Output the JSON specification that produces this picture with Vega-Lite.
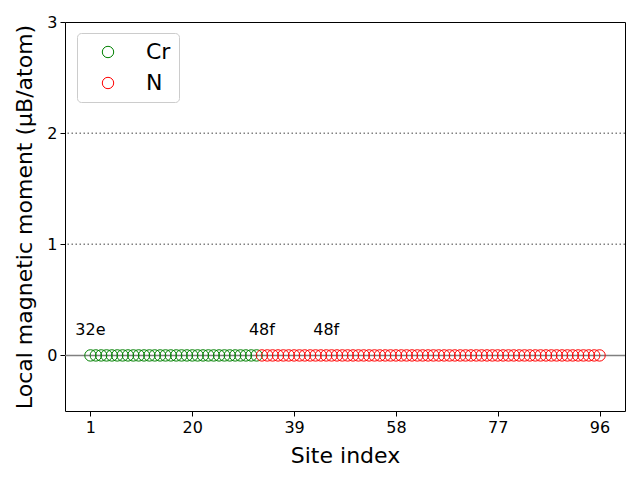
{
  "$schema": "https://vega.github.io/schema/vega-lite/v6.json",
  "width": 560,
  "height": 389,
  "autosize": {"type": "none"},
  "padding": {"left": 65, "top": 22, "right": 15, "bottom": 69},
  "background": "white",
  "config": {
    "font": "DejaVu Sans",
    "view": {"stroke": "black", "strokeWidth": 1},
    "axis": {
      "grid": false,
      "domain": false,
      "tickColor": "black",
      "tickSize": 5,
      "tickWidth": 1,
      "labelColor": "black",
      "labelFontSize": 16,
      "labelPadding": 3,
      "titleColor": "black",
      "titleFontSize": 22,
      "titleFontWeight": "normal"
    }
  },
  "datasets": {
    "sites": [
      {"site": 1, "element": "Cr", "moment": 0}, {"site": 2, "element": "Cr", "moment": 0}, {"site": 3, "element": "Cr", "moment": 0}, {"site": 4, "element": "Cr", "moment": 0},
      {"site": 5, "element": "Cr", "moment": 0}, {"site": 6, "element": "Cr", "moment": 0}, {"site": 7, "element": "Cr", "moment": 0}, {"site": 8, "element": "Cr", "moment": 0},
      {"site": 9, "element": "Cr", "moment": 0}, {"site": 10, "element": "Cr", "moment": 0}, {"site": 11, "element": "Cr", "moment": 0}, {"site": 12, "element": "Cr", "moment": 0},
      {"site": 13, "element": "Cr", "moment": 0}, {"site": 14, "element": "Cr", "moment": 0}, {"site": 15, "element": "Cr", "moment": 0}, {"site": 16, "element": "Cr", "moment": 0},
      {"site": 17, "element": "Cr", "moment": 0}, {"site": 18, "element": "Cr", "moment": 0}, {"site": 19, "element": "Cr", "moment": 0}, {"site": 20, "element": "Cr", "moment": 0},
      {"site": 21, "element": "Cr", "moment": 0}, {"site": 22, "element": "Cr", "moment": 0}, {"site": 23, "element": "Cr", "moment": 0}, {"site": 24, "element": "Cr", "moment": 0},
      {"site": 25, "element": "Cr", "moment": 0}, {"site": 26, "element": "Cr", "moment": 0}, {"site": 27, "element": "Cr", "moment": 0}, {"site": 28, "element": "Cr", "moment": 0},
      {"site": 29, "element": "Cr", "moment": 0}, {"site": 30, "element": "Cr", "moment": 0}, {"site": 31, "element": "Cr", "moment": 0}, {"site": 32, "element": "Cr", "moment": 0},
      {"site": 33, "element": "N", "moment": 0}, {"site": 34, "element": "N", "moment": 0}, {"site": 35, "element": "N", "moment": 0}, {"site": 36, "element": "N", "moment": 0},
      {"site": 37, "element": "N", "moment": 0}, {"site": 38, "element": "N", "moment": 0}, {"site": 39, "element": "N", "moment": 0}, {"site": 40, "element": "N", "moment": 0},
      {"site": 41, "element": "N", "moment": 0}, {"site": 42, "element": "N", "moment": 0}, {"site": 43, "element": "N", "moment": 0}, {"site": 44, "element": "N", "moment": 0},
      {"site": 45, "element": "N", "moment": 0}, {"site": 46, "element": "N", "moment": 0}, {"site": 47, "element": "N", "moment": 0}, {"site": 48, "element": "N", "moment": 0},
      {"site": 49, "element": "N", "moment": 0}, {"site": 50, "element": "N", "moment": 0}, {"site": 51, "element": "N", "moment": 0}, {"site": 52, "element": "N", "moment": 0},
      {"site": 53, "element": "N", "moment": 0}, {"site": 54, "element": "N", "moment": 0}, {"site": 55, "element": "N", "moment": 0}, {"site": 56, "element": "N", "moment": 0},
      {"site": 57, "element": "N", "moment": 0}, {"site": 58, "element": "N", "moment": 0}, {"site": 59, "element": "N", "moment": 0}, {"site": 60, "element": "N", "moment": 0},
      {"site": 61, "element": "N", "moment": 0}, {"site": 62, "element": "N", "moment": 0}, {"site": 63, "element": "N", "moment": 0}, {"site": 64, "element": "N", "moment": 0},
      {"site": 65, "element": "N", "moment": 0}, {"site": 66, "element": "N", "moment": 0}, {"site": 67, "element": "N", "moment": 0}, {"site": 68, "element": "N", "moment": 0},
      {"site": 69, "element": "N", "moment": 0}, {"site": 70, "element": "N", "moment": 0}, {"site": 71, "element": "N", "moment": 0}, {"site": 72, "element": "N", "moment": 0},
      {"site": 73, "element": "N", "moment": 0}, {"site": 74, "element": "N", "moment": 0}, {"site": 75, "element": "N", "moment": 0}, {"site": 76, "element": "N", "moment": 0},
      {"site": 77, "element": "N", "moment": 0}, {"site": 78, "element": "N", "moment": 0}, {"site": 79, "element": "N", "moment": 0}, {"site": 80, "element": "N", "moment": 0},
      {"site": 81, "element": "N", "moment": 0}, {"site": 82, "element": "N", "moment": 0}, {"site": 83, "element": "N", "moment": 0}, {"site": 84, "element": "N", "moment": 0},
      {"site": 85, "element": "N", "moment": 0}, {"site": 86, "element": "N", "moment": 0}, {"site": 87, "element": "N", "moment": 0}, {"site": 88, "element": "N", "moment": 0},
      {"site": 89, "element": "N", "moment": 0}, {"site": 90, "element": "N", "moment": 0}, {"site": 91, "element": "N", "moment": 0}, {"site": 92, "element": "N", "moment": 0},
      {"site": 93, "element": "N", "moment": 0}, {"site": 94, "element": "N", "moment": 0}, {"site": 95, "element": "N", "moment": 0}, {"site": 96, "element": "N", "moment": 0}
    ],
    "labels": [
      {"site": 1, "moment": 0.18, "label": "32e"},
      {"site": 33, "moment": 0.18, "label": "48f"},
      {"site": 45, "moment": 0.18, "label": "48f"}
    ],
    "zeroLine": [{"moment": 0}],
    "refLines": [{"moment": 1}, {"moment": 2}]
  },
  "encoding": {
    "x": {
      "field": "site",
      "type": "quantitative",
      "scale": {"domain": [-3.75, 100.75], "nice": false, "zero": false},
      "axis": {"values": [1, 20, 39, 58, 77, 96], "title": "Site index", "titlePadding": 10}
    },
    "y": {
      "field": "moment",
      "type": "quantitative",
      "scale": {"domain": [-0.5, 3], "nice": false, "zero": false},
      "axis": {"values": [0, 1, 2, 3], "title": "Local magnetic moment (μB/atom)", "titlePadding": 10}
    }
  },
  "layer": [
    {
      "data": {"name": "refLines"},
      "mark": {"type": "rule", "color": "gray", "strokeWidth": 1.5, "strokeDash": [1.5, 2.5]},
      "encoding": {"x": null}
    },
    {
      "data": {"name": "zeroLine"},
      "mark": {"type": "rule", "color": "gray", "strokeWidth": 1.5},
      "encoding": {"x": null}
    },
    {
      "data": {"name": "sites"},
      "mark": {"type": "point", "shape": "circle", "filled": false, "size": 130, "strokeWidth": 1, "opacity": 1},
      "encoding": {
        "color": {
          "field": "element",
          "type": "nominal",
          "scale": {"domain": ["Cr", "N"], "range": ["green", "red"]},
          "legend": {
            "title": null,
            "orient": "none",
            "legendX": 12,
            "legendY": 11,
            "padding": 8,
            "fillColor": "white",
            "strokeColor": "#cccccc",
            "cornerRadius": 4,
            "labelFontSize": 22,
            "labelColor": "black",
            "labelOffset": 27,
            "symbolOffset": 12,
            "symbolSize": 130,
            "symbolStrokeWidth": 1,
            "symbolType": "circle",
            "rowPadding": 9
          }
        }
      }
    },
    {
      "data": {"name": "labels"},
      "mark": {"type": "text", "fontSize": 16, "align": "center", "baseline": "alphabetic", "color": "black"},
      "encoding": {"text": {"field": "label"}}
    }
  ]
}
